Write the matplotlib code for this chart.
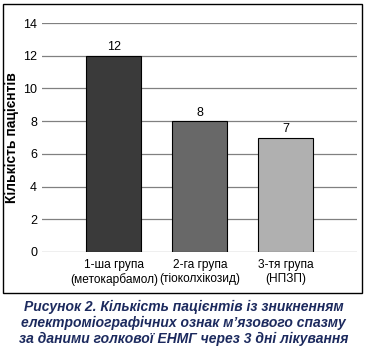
import matplotlib
matplotlib.use("Agg")
import matplotlib.pyplot as plt
from matplotlib.patches import Rectangle

groups = ["1-ша група\n(метокарбамол)", "2-га група\n(тіоколхікозид)", "3-тя група\n(НПЗП)"]
patients = [12, 8, 7]
bar_colors = ["#3a3a3a", "#686868", "#b0b0b0"]
y_ticks = [0, 2, 4, 6, 8, 10, 12, 14]
caption = ("Рисунок 2. Кількість пацієнтів із зникненням\n"
           "електроміографічних ознак м’язового спазму\n"
           "за даними голкової ЕНМГ через 3 дні лікування")

plt.rcParams["font.family"] = ["Liberation Sans", "DejaVu Sans"]

W, H = 367, 353
fig = plt.figure(figsize=(W / 100, H / 100), dpi=100)

# outer frame round the chart
fig.patches.append(Rectangle((3 / W, 1 - 293 / H), 359 / W, 289 / H,
                             transform=fig.transFigure, fill=False,
                             edgecolor="black", linewidth=1.0))

ax = fig.add_axes([42 / W, 1 - 252 / H, 315 / W, 229 / H])
x = range(len(groups))
bars = ax.bar(x, patients, width=0.64, color=bar_colors,
              edgecolor="black", linewidth=0.8, zorder=3)
for b, v in zip(bars, patients):
    ax.text(b.get_x() + b.get_width() / 2, v + 0.15, str(v),
            ha="center", va="bottom", fontsize=9)

ax.set_xlim(-0.837, 2.826)
ax.set_ylim(0, 14)
ax.set_yticks(y_ticks)
ax.yaxis.grid(True, color="#808080", linewidth=0.9, zorder=0)
ax.set_xticks(list(x))
ax.set_xticklabels(groups, fontsize=8.6, linespacing=1.25)
ax.tick_params(axis="y", length=0, labelsize=9, pad=3.5)
ax.tick_params(axis="x", length=0, pad=5)
for s in ax.spines.values():
    s.set_visible(False)
ax.set_ylabel("Кількість пацієнтів", fontsize=10, fontweight="bold")
ax.yaxis.set_label_coords(-23 / 315, 0.5)

fig.text(0.5, 1 - 323 / H, caption, ha="center", va="center",
         fontsize=10, fontweight="bold", fontstyle="italic",
         color="#1c2a5e", linespacing=1.15)

fig.savefig("out.png", dpi=100)
